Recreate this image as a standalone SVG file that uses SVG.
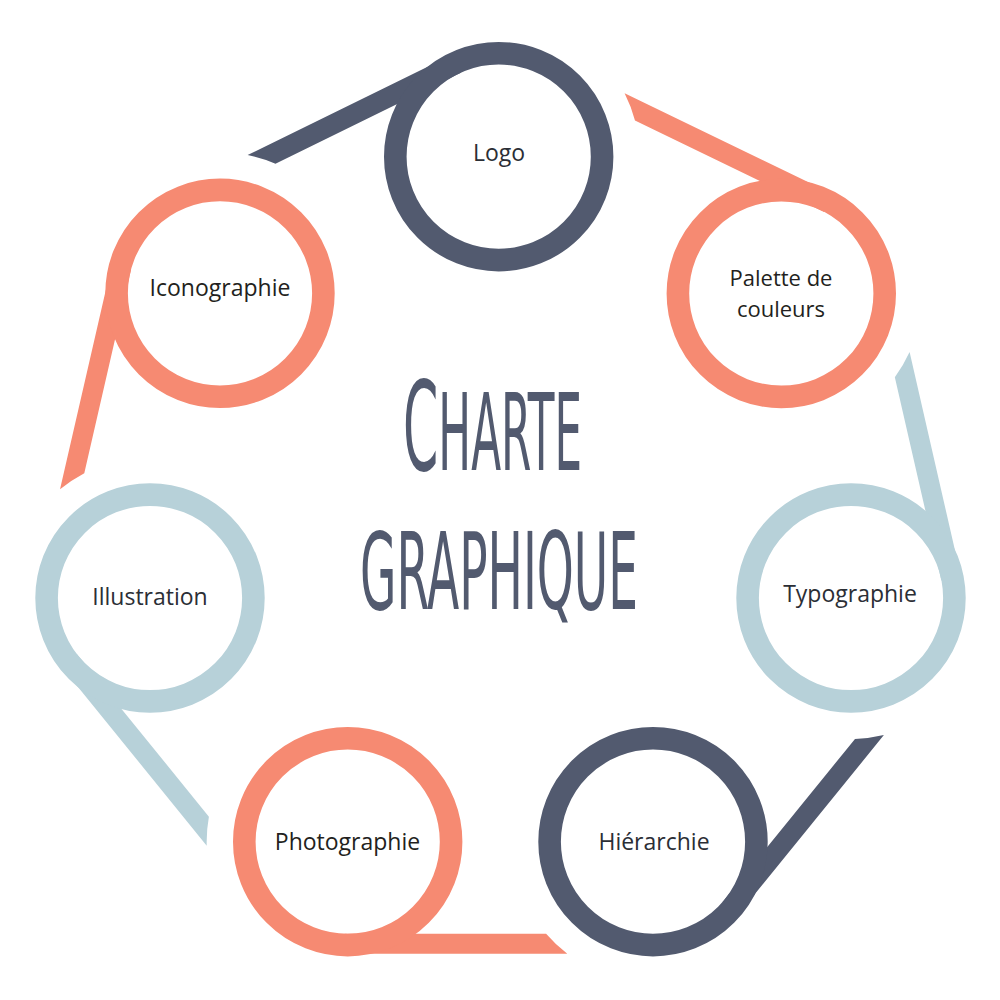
<svg xmlns="http://www.w3.org/2000/svg" width="1000" height="1000" viewBox="0 0 1000 1000">
<style>
.ring{fill:none;stroke-width:22.6}
.dark{stroke:#525A6F}
.salmon{stroke:#F68A72}
.blue{stroke:#B7D1D9}
.tdark{fill:#525A6F}
.tsalmon{fill:#F68A72}
.tblue{fill:#B7D1D9}
.lbl{font-family:"Open Sans","Noto Sans","DejaVu Sans",sans-serif;font-size:23px;text-anchor:middle;fill:#231F20}
.title{font-family:"Liberation Sans Narrow","DejaVu Sans Condensed",Roboto,"Liberation Sans",sans-serif;fill:#525A6F;font-weight:normal}
</style>
<rect width="1000" height="1000" fill="#FFFFFF"/>
<g id="connectors">
<path class="tdark" transform="translate(498.7,156.7) rotate(-26.11)" d="M3,-112 L-224.7,-112 A141,141 0 0 1 -203.5,-92 L3,-92 Z"/>
<path class="tsalmon" transform="translate(781.3,293.5) rotate(25.83)" d="M3,-112 L-228.3,-112 A141,141 0 0 1 -207.1,-92 L3,-92 Z"/>
<path class="tblue" transform="translate(851,598) rotate(77.11)" d="M3,-112 L-226.7,-112 A141,141 0 0 1 -205.5,-92 L3,-92 Z"/>
<path class="tdark" transform="translate(653,841.7) rotate(129.09)" d="M3,-112 L-228.3,-112 A141,141 0 0 1 -207.1,-92 L3,-92 Z"/>
<path class="tsalmon" transform="translate(347.7,841.7) rotate(180)" d="M3,-112 L-219.6,-112 A141,141 0 0 1 -198.4,-92 L3,-92 Z"/>
<path class="tblue" transform="translate(150,598) rotate(230.95)" d="M3,-112 L-228.1,-112 A141,141 0 0 1 -206.9,-92 L3,-92 Z"/>
<path class="tsalmon" transform="translate(220,293.3) rotate(-77.06)" d="M3,-112 L-226.9,-112 A141,141 0 0 1 -205.7,-92 L3,-92 Z"/>
</g>
<g id="node-logo">
<circle class="ring dark" cx="498.7" cy="156.7" r="103.4"/>
<text class="lbl" x="499" y="160.5" style="fill:#2B2E35">Logo</text>
</g>
<g id="node-palette">
<circle class="ring salmon" cx="781.3" cy="293.5" r="103.4"/>
<text class="lbl" style="font-size:22px"><tspan x="781" y="286">Palette de</tspan><tspan x="781" y="316.5">couleurs</tspan></text>
</g>
<g id="node-typographie">
<circle class="ring blue" cx="851" cy="598" r="103.4"/>
<text class="lbl" x="850" y="602" style="fill:#2B2E35">Typographie</text>
</g>
<g id="node-hierarchie">
<circle class="ring dark" cx="653" cy="841.7" r="103.4"/>
<text class="lbl" x="654" y="850" style="fill:#2B2E35">Hiérarchie</text>
</g>
<g id="node-photographie">
<circle class="ring salmon" cx="347.7" cy="841.7" r="103.4"/>
<text class="lbl" x="347.5" y="849.5">Photographie</text>
</g>
<g id="node-illustration">
<circle class="ring blue" cx="150" cy="598" r="103.4"/>
<text class="lbl" x="150" y="605" style="fill:#2B2E35">Illustration</text>
</g>
<g id="node-iconographie">
<circle class="ring salmon" cx="220" cy="293.3" r="103.4"/>
<text class="lbl" x="220" y="296">Iconographie</text>
</g>
<g id="title">
<text class="title" transform="translate(403,470) scale(0.5,1)" x="0" y="0" textLength="358" lengthAdjust="spacingAndGlyphs"><tspan font-size="124">C</tspan><tspan font-size="107">HARTE</tspan></text>
<text class="title" transform="translate(360,609) scale(0.5,1)" x="0" y="0" font-size="107" textLength="556" lengthAdjust="spacingAndGlyphs">GRAPHIQUE</text>
</g>
</svg>
